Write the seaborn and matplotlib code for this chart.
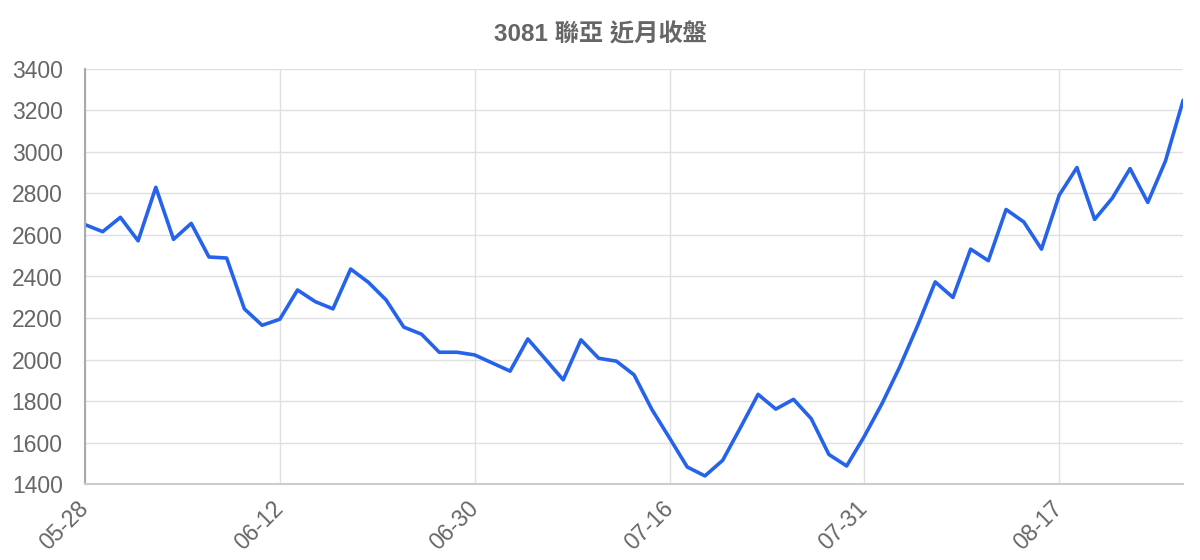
import seaborn as sns
import pandas as pd
import matplotlib.pyplot as plt

# closing prices, one per trading day
close = [2650, 2616, 2685, 2572, 2830, 2579, 2656, 2494, 2489, 2244,
         2165, 2194, 2335, 2279, 2244, 2436, 2372, 2287, 2156, 2122,
         2035, 2035, 2022, 1983, 1944, 2099, 2001, 1902, 2095, 2006,
         1992, 1926, 1760, 1622, 1482, 1439, 1514, 1671, 1832, 1761,
         1808, 1715, 1542, 1487, 1630, 1788, 1965, 2162, 2374, 2299,
         2532, 2476, 2723, 2663, 2532, 2792, 2925, 2675, 2778, 2920,
         2757, 2957, 3250]
date_labels = ['05-28', '06-12', '06-30', '07-16', '07-31', '08-17']
label_every = 11
title = '3081 聯亞 近月收盤'

df = pd.DataFrame({'idx': range(len(close)), 'close': close})

sns.set_style('white')
plt.rcParams['font.family'] = ['Liberation Sans', 'Noto Sans CJK TC', 'DejaVu Sans']

fig = plt.figure(figsize=(12, 5.6), dpi=100)
ax = fig.add_axes([0.0708, 0.1357, 0.9152, 0.7411])

sns.lineplot(data=df, x='idx', y='close', ax=ax, color='#2563eb', linewidth=2.6)

ax.set_xlim(0, len(close) - 1)
ax.set_ylim(1400, 3400)
ax.set_yticks(range(1400, 3401, 200))
ax.set_xticks(range(0, len(close), label_every))
ax.set_xticklabels(date_labels, rotation=45, ha='right', va='center', rotation_mode='anchor')

ax.grid(True, color='#e0e0e0', linewidth=1)
ax.tick_params(axis='both', length=14, color='#e0e0e0', labelsize=16.5, labelcolor='#666666', pad=2)
ax.tick_params(axis='x', pad=1)
for side in ['top', 'right']:
    ax.spines[side].set_visible(False)
ax.spines['left'].set_color('#aaaaaa')
ax.spines['left'].set_linewidth(1.5)
ax.spines['bottom'].set_color('#cccccc')
ax.spines['bottom'].set_linewidth(1.5)
ax.set_xlabel('')
ax.set_ylabel('')

fig.suptitle(title, x=0.5, y=0.959, fontsize=17.5, fontweight='bold', color='#666666')

fig.savefig('out.png', dpi=100)
